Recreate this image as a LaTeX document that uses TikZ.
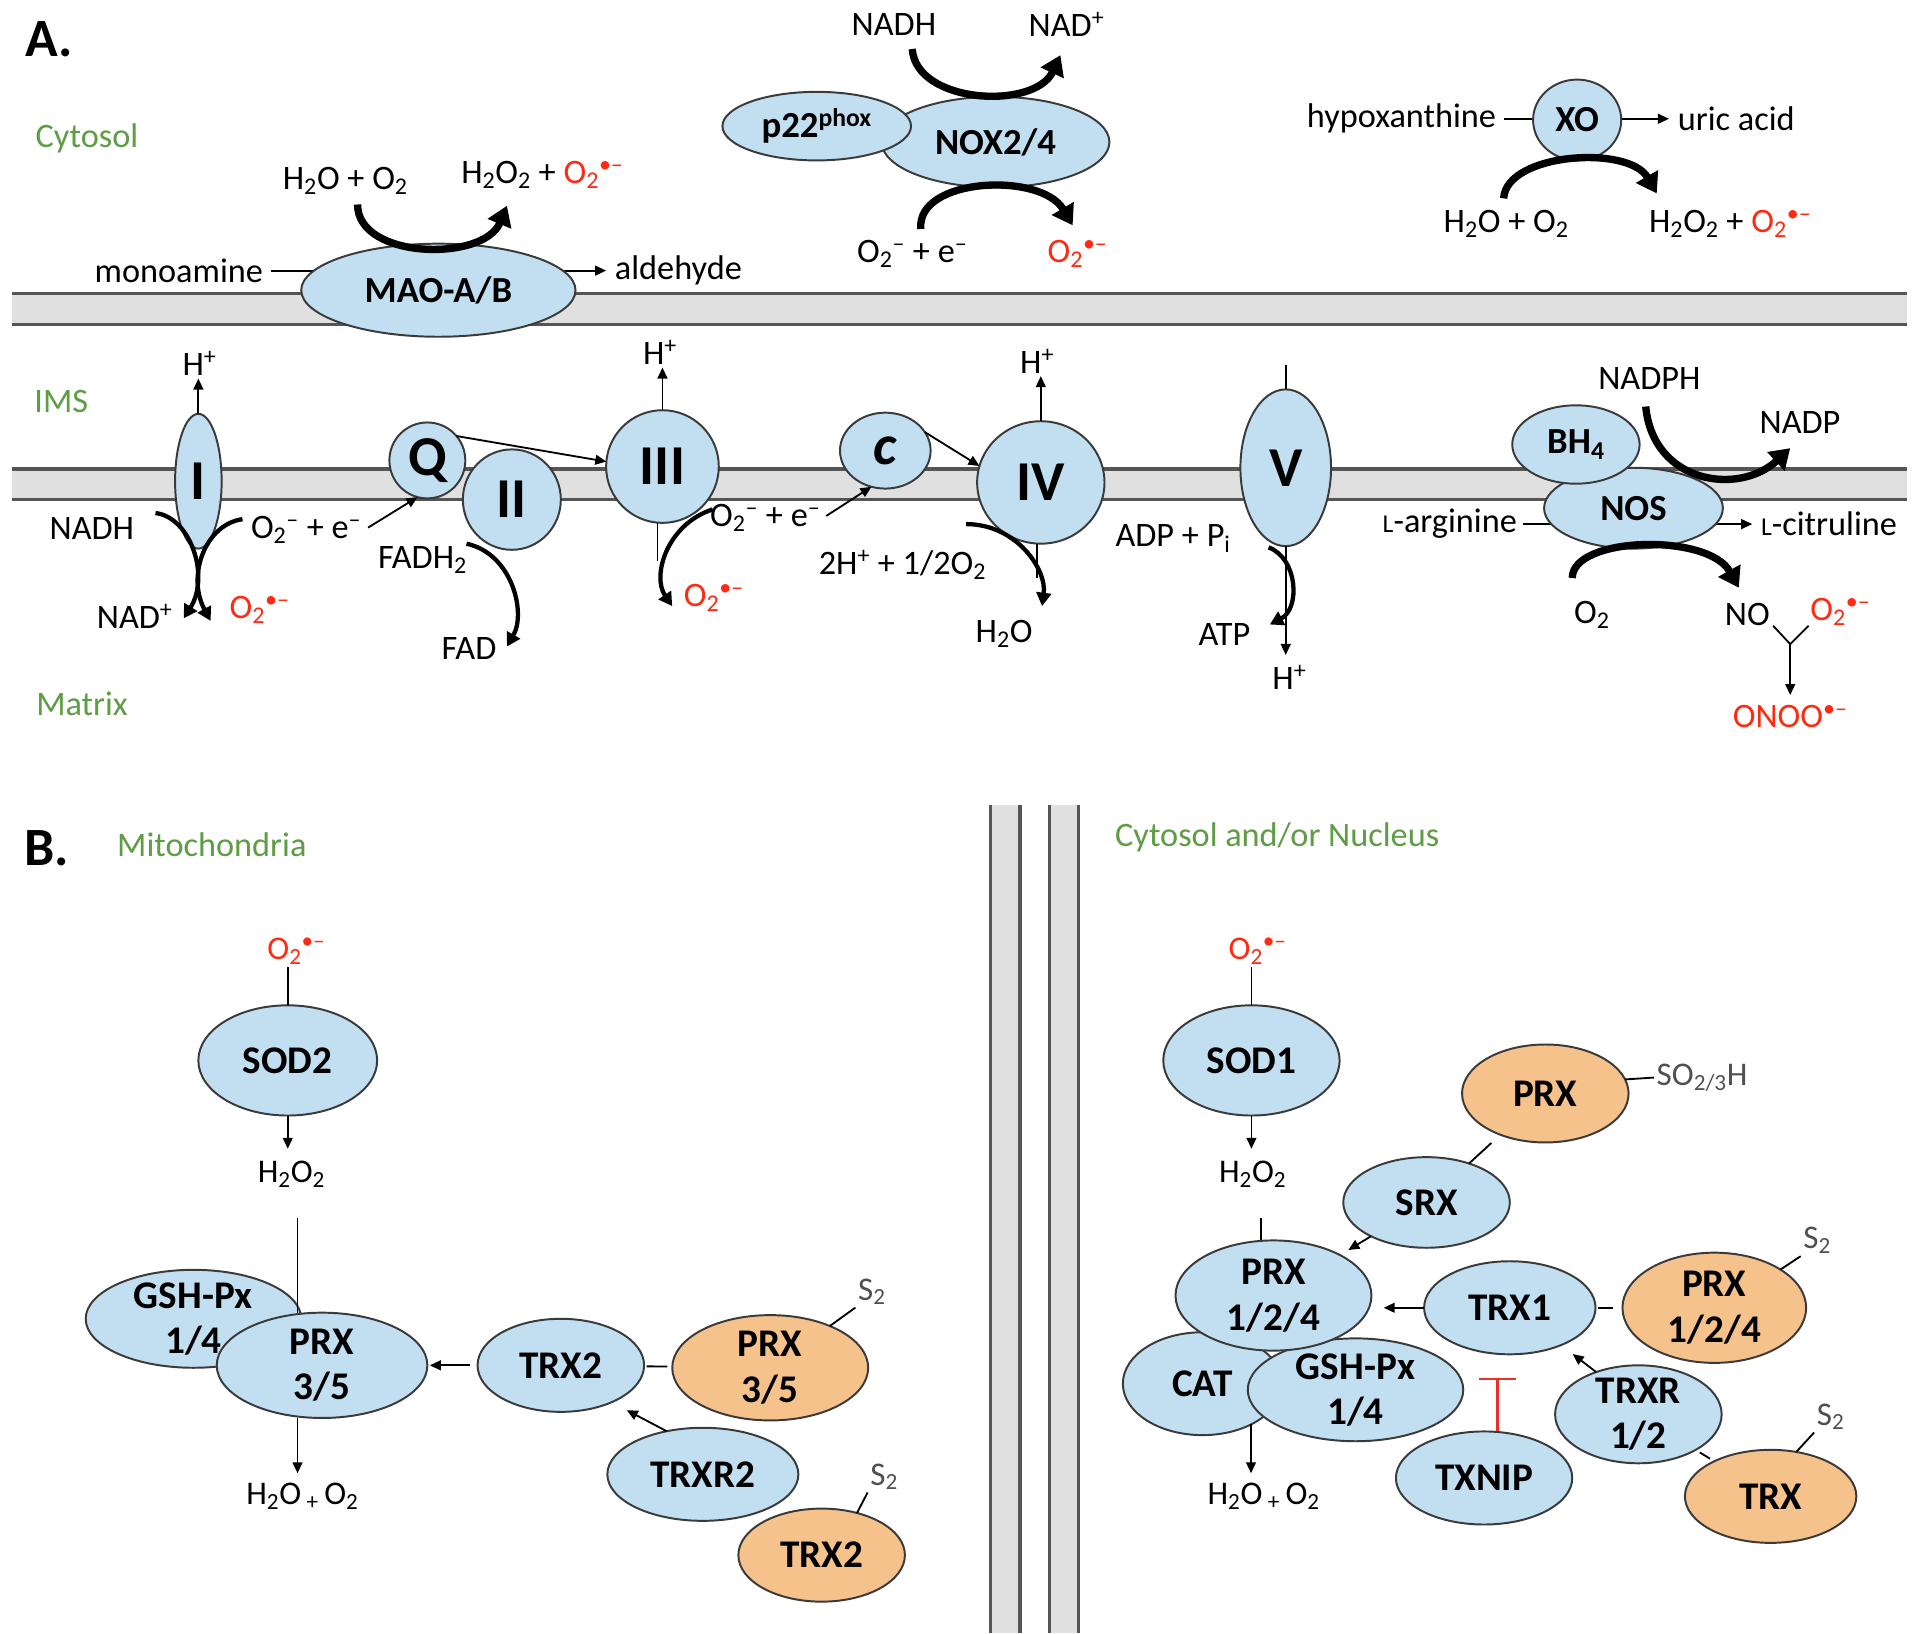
\documentclass[tikz,border=0pt]{standalone}
\usepackage{fontspec}
\setmainfont{Carlito}
\usetikzlibrary{shapes.geometric,arrows.meta}
\pgfdeclarelayer{back}
\pgfdeclarelayer{bg}
\pgfsetlayers{back,bg,main}
\definecolor{pblue}{HTML}{C2DEF1}
\definecolor{porange}{HTML}{F6C28C}
\definecolor{edge}{HTML}{3A3A3A}
\definecolor{mem}{HTML}{E0E0E0}
\definecolor{memline}{HTML}{555555}
\definecolor{grn}{HTML}{5E9C45}
\definecolor{rd}{HTML}{FF2A12}
\definecolor{gry}{HTML}{505050}
\definecolor{inhred}{HTML}{E8302A}
\newcommand\fsz[1]{\fontsize{#1}{#1}\selectfont}
\newcommand\sbs[1]{\textsubscript{#1}}
\newcommand\sps[1]{\textsuperscript{#1}}
\newcommand\supox{\textsuperscript{\textbullet–}}
\begin{document}
\begin{tikzpicture}[x=1pt,y=-1pt,
 prot/.style={ellipse, draw=edge, line width=1.6pt, fill=pblue, inner sep=0pt, outer sep=0pt},
 oprot/.style={prot, fill=porange},
 ell/.style 2 args={minimum width=#1pt, minimum height=#2pt},
 pA/.style={font=\fsz{30}\bfseries, inner sep=0pt},
 pN/.style={font=\fsz{46}\bfseries, inner sep=0pt},
 pB/.style={font={\fontsize{32}{37}\selectfont\bfseries}, align=center, inner sep=0pt},
 lab/.style={font=\fsz{28}, inner sep=2pt},
 slab/.style={font=\fsz{27}, inner sep=2pt},
 glab/.style={font=\fsz{28}, text=grn, inner sep=2pt},
 rlab/.style={lab, text=rd},
 grlab/.style={slab, text=gry},
 conn/.style={line width=1.5pt, draw=black},
 tarr/.style={conn, -{Triangle[length=9pt,width=8pt]}},
 midarr/.style={line width=3.5pt, -{Triangle[length=11pt,width=12pt]}},
 bigarr/.style={line width=6pt, -{Triangle[length=16pt,width=20pt]}},
 memb/.style={draw=memline, line width=2.5pt}
]
\useasboundingbox (0,0) rectangle (1568,1334);
\begin{pgfonlayer}{back}
\fill[white] (0,0) rectangle (1568,1334);
\fill[mem] (10,240) rectangle (1557,265);
\draw[memb] (10,240) -- (1557,240) (10,265) -- (1557,265);
\fill[mem] (10,383) rectangle (1557,408);
\draw[memb] (10,383) -- (1557,383) (10,408) -- (1557,408);
\fill[mem] (809,657) rectangle (833,1334);
\fill[mem] (857,657) rectangle (881,1334);
\draw[memb] (809,657) -- (809,1334) (833,657) -- (833,1334) (857,657) -- (857,1334) (881,657) -- (881,1334);
\end{pgfonlayer}

% ---------------- Part A ----------------
\node[font=\fsz{44}\bfseries, inner sep=0pt] (labA) at (40,32) {A.};
\node[glab] (cyt) at (71,113) {Cytosol};
\node[glab] (ims) at (50,328) {IMS};
\node[glab] (mat) at (67,575) {Matrix};

% MAO
\node[prot, ell={224}{76}, label={[pA]center:MAO-A/B}] (mao) at (358,237) {};
\node[lab, anchor=east] (mono) at (217,221) {monoamine};
\node[lab, anchor=west] (ald) at (500,221) {aldehyde};
\node[lab] (maow) at (282,148) {H\sbs{2}O + O\sbs{2}};
\node[lab] (maop) at (443,143) {H\sbs{2}O\sbs{2} + \textcolor{rd}{O\sbs{2}\supox}};
\coordinate (maoA) at (292,167);
\coordinate (maoB) at (414,168);
\draw[bigarr] (maoA) .. controls (292,212) and (395,214) .. (maoB);

% NOX
\node[prot, ell={186}{74}, label={[pA]center:NOX2/4}] (nox) at (813,116) {};
\node[prot, ell={154}{56}, label={[pA]center:p22\sps{phox}}] (p22) at (667,103) {};
\node[lab] (noxn) at (730,20) {NADH};
\node[lab] (noxp) at (871,20) {NAD\sps{+}};
\node[lab] (noxe) at (745,207) {O\sbs{2}\sps{–} + e\sps{–}};
\node[rlab] (noxo) at (880,207) {O\sbs{2}\supox};
\coordinate (noxA) at (745,40);
\coordinate (noxB) at (866,45);
\draw[bigarr] (noxA) .. controls (748,85) and (845,90) .. (noxB);
\coordinate (noxC) at (752,187);
\coordinate (noxD) at (876,184);
\draw[bigarr] (noxC) .. controls (748,145) and (850,140) .. (noxD);

% XO
\node[prot, ell={72}{66}, label={[pA]center:XO}] (xo) at (1288,98) {};
\node[lab, anchor=east] (hypo) at (1224,97) {hypoxanthine};
\node[lab, anchor=west] (uric) at (1368,97) {uric acid};
\node[lab] (xow) at (1230,183) {H\sbs{2}O + O\sbs{2}};
\node[lab] (xop) at (1413,183) {H\sbs{2}O\sbs{2} + \textcolor{rd}{O\sbs{2}\supox}};
\coordinate (xoA) at (1228,162);
\coordinate (xoB) at (1353,158);
\draw[bigarr] (xoA) .. controls (1230,125) and (1330,118) .. (xoB);

% Complex I
\node[prot, ell={38}{110}, label={[pN]center:I}] (cI) at (162,393) {};
\node[lab] (hI) at (163,297) {H\sps{+}};
\node[lab] (nadhI) at (75,432) {NADH};
\node[lab] (nadI) at (110,503) {NAD\sps{+}};
\node[lab] (eI) at (250,433) {O\sbs{2}\sps{–} + e\sps{–}};
\node[rlab] (oI) at (212,498) {O\sbs{2}\supox};
\draw[tarr] (cI.north) -- (cI.north |- hI.south);
\coordinate (cIa) at (127,419);
\coordinate (cIb) at (150,505);
\coordinate (cIc) at (198,424);
\coordinate (cId) at (172,507);
\draw[midarr] (cIa) .. controls (155,422) and (172,470) .. (cIb);
\draw[midarr] (cIc) .. controls (168,428) and (152,470) .. (cId);

% Q and II
\node[prot, ell={62}{62}, label={[pN]center:Q}] (Q) at (349,376) {};
\node[prot, ell={80}{82}, label={[pN]center:II}] (cII) at (418,408) {};
\node[lab] (fadh) at (345,457) {FADH\sbs{2}};
\node[lab] (fad) at (383,530) {FAD};
\draw[tarr, shorten <=4pt] (eI.east) -- (Q.255);
\coordinate (fA) at (381,444);
\coordinate (fB) at (414,528);
\draw[midarr] (fA) .. controls (418,452) and (430,500) .. (fB);

% III
\node[prot, ell={92}{92}, label={[pN]center:III}] (cIII) at (541,381) {};
\node[lab] (hIII) at (539,288) {H\sps{+}};
\node[lab] (eIII) at (625,423) {O\sbs{2}\sps{–} + e\sps{–}};
\node[rlab] (oIII) at (583,488) {O\sbs{2}\supox};
\draw[tarr] (Q.40) -- (cIII.175);
\draw[tarr] (cIII.north) -- (cIII.north |- hIII.south);
\coordinate (IIId) at (537,458);
\draw[conn] (IIId |- cIII.south) -- (IIId);
\coordinate (IIIa) at (582,416);
\coordinate (IIIb) at (549,495);
\draw[midarr] (IIIa) .. controls (545,428) and (532,470) .. (IIIb);

% c
\node[prot, ell={74}{62}, label={[pN]center:\itshape c}] (cc) at (723,368) {};
\draw[tarr, shorten <=3pt] (eIII.east) -- (cc.249);

% IV
\node[prot, ell={104}{100}, label={[pN]center:IV}] (cIV) at (850,394) {};
\node[lab] (hIV) at (847,295) {H\sps{+}};
\node[lab] (oxIV) at (737,461) {2H\sps{+} + 1/2O\sbs{2}};
\node[lab] (wIV) at (820,518) {H\sbs{2}O};
\draw[tarr] (cc.25) -- (cIV.165);
\draw[tarr] (cIV.north) -- (cIV.north |- hIV.south);
\coordinate (IVd) at (847,472);
\draw[conn] (IVd |- cIV.south) -- (IVd);
\coordinate (IVa) at (789,428);
\coordinate (IVb) at (851,495);
\draw[midarr] (IVa) .. controls (830,428) and (855,465) .. (IVb);

% V
\node[prot, ell={74}{128}, label={[pN]center:V}] (cV) at (1050,382) {};
\node[lab] (hV) at (1053,553) {H\sps{+}};
\node[lab] (adp) at (958,440) {ADP + P\sbs{i}};
\node[lab] (atp) at (1000,518) {ATP};
\coordinate (Vt) at (1050,298);
\draw[conn] (Vt) -- (cV.north);
\draw[tarr, shorten >=6pt] (cV.south) -- (cV.south |- hV.north);
\coordinate (Va) at (1036,447);
\coordinate (Vb) at (1037,510);
\draw[midarr] (Va) .. controls (1060,456) and (1062,497) .. (Vb);

% NOS
\node[prot, ell={146}{66}, label={[pA]center:NOS}] (nos) at (1334,415) {};
\node[prot, ell={104}{64}, label={[pA]center:BH\sbs{4}}] (bh4) at (1287,363) {};
\node[lab, anchor=east] (larg) at (1241,428) {{\fsz{21}L}-arginine};
\node[lab, anchor=west] (lcit) at (1436,428) {{\fsz{21}L}-citruline};
\node[lab] (nadph) at (1347,309) {NADPH};
\node[lab] (nadp) at (1470,345) {NADP};
\node[lab] (o2n) at (1300,502) {O\sbs{2}};
\node[lab] (non) at (1427,502) {NO};
\node[rlab] (oxn) at (1503,500) {O\sbs{2}\supox};
\node[rlab] (onoo) at (1462,585) {ONOO\supox};
\coordinate (nA) at (1344,332);
\coordinate (nB) at (1462,366);
\draw[bigarr] (nA) .. controls (1350,395) and (1420,405) .. (nB);
\coordinate (nC) at (1284,472);
\coordinate (nD) at (1420,480);
\draw[bigarr] (nC) .. controls (1284,438) and (1395,435) .. (nD);
\coordinate (yl) at (1448,511);
\coordinate (yr) at (1477,511);
\coordinate (yj) at (1462,526);
\draw[conn] (yl) -- (yj) -- (yr);
\draw[tarr, shorten >=6pt] (yj) -- (onoo.north);

\begin{pgfonlayer}{bg}
\draw[conn, shorten <=4pt] (mono.east) -- (mono.east -| mao.center);
\draw[tarr, shorten >=5pt] (ald.west -| mao.center) -- (ald.west);
\draw[conn, shorten <=4pt] (hypo.east) -- (hypo.east -| xo.center);
\draw[tarr, shorten >=5pt] (uric.west -| xo.center) -- (uric.west);
\draw[conn, shorten <=3pt] (larg.east) -- (larg.east -| nos.center);
\draw[tarr, shorten >=5pt] (lcit.west -| nos.center) -- (lcit.west);
\end{pgfonlayer}

% ---------------- Part B ----------------
\node[font=\fsz{44}\bfseries, inner sep=0pt] (labB) at (38,693) {B.};
\node[glab] (mito) at (173,690) {Mitochondria};
\node[glab] (cyn) at (1043,684) {Cytosol and/or Nucleus};

% left
\node[rlab, font=\fsz{27}] (ob2) at (242,777) {O\sbs{2}\supox};
\node[prot, ell={146}{90}, label={[pB]center:SOD2}] (sod2) at (235,866) {};
\node[slab] (h2o2L) at (238,959) {H\sbs{2}O\sbs{2}};
\node[prot, ell={176}{80}, label={[pB]center:{GSH-Px\\1/4}}] (gshL) at (158,1077) {};
\node[prot, ell={172}{86}, label={[pB]center:{PRX\\3/5}}] (prx35) at (263,1115) {};
\node[slab] (h2oo2L) at (247,1222) {H\sbs{2}O\,\sbs{+}\,O\sbs{2}};
\node[prot, ell={136}{76}, label={[pB]center:TRX2}] (trx2b) at (458,1115) {};
\node[oprot, ell={160}{86}, label={[pB]center:{PRX\\3/5}}] (prx35o) at (629,1117) {};
\node[prot, ell={156}{76}, label={[pB]center:TRXR2}] (trxr2) at (574,1204) {};
\node[oprot, ell={136}{76}, label={[pB]center:TRX2}] (trx2o) at (671,1270) {};
\node[grlab] (s2a) at (712,1055) {S\sbs{2}};
\node[grlab] (s2b) at (722,1206) {S\sbs{2}};
\draw[conn] (sod2.north) -- (sod2.north |- ob2.south);
\draw[tarr, shorten >=8pt] (sod2.south) -- (sod2.south |- h2o2L.north);
\coordinate (hl1) at (243,995);
\draw[conn] (hl1) -- (hl1 |- prx35.north);
\draw[tarr, shorten >=6pt] (hl1 |- prx35.south) -- (hl1 |- h2oo2L.north);
\draw[tarr, shorten <=6pt, shorten >=2pt] (trx2b) -- (prx35);
\draw[conn, shorten <=2pt, shorten >=4pt] (trx2b) -- (prx35o);
\draw[tarr, shorten >=14pt] (trxr2.130) -- (trx2b.-36);
\draw[conn] (prx35o.35) -- (s2a.south west);
\draw[conn] (trx2o.50) -- (s2b.south west);

% right
\node[rlab, font=\fsz{27}] (ob1) at (1027,777) {O\sbs{2}\supox};
\node[prot, ell={144}{90}, label={[pB]center:SOD1}] (sod1) at (1022,866) {};
\node[slab] (h2o2R) at (1023,959) {H\sbs{2}O\sbs{2}};
\node[oprot, ell={136}{80}, label={[pB]center:PRX}] (prxo) at (1262,893) {};
\node[grlab] (so) at (1390,880) {SO\sbs{2/3}H};
\node[prot, ell={136}{74}, label={[pB]center:SRX}] (srx) at (1165,982) {};
\node[prot, ell={130}{84}, label={[pB]center:CAT}] (cat) at (982,1130) {};
\node[prot, ell={176}{84}, label={[pB]center:{GSH-Px\\1/4}}] (gshR) at (1107,1135) {};
\node[prot, ell={160}{90}, label={[pB]center:{PRX\\1/2/4}}] (prx124b) at (1040,1058) {};
\node[slab] (h2oo2R) at (1032,1222) {H\sbs{2}O\,\sbs{+}\,O\sbs{2}};
\node[prot, ell={140}{76}, label={[pB]center:TRX1}] (trx1) at (1233,1068) {};
\node[oprot, ell={150}{90}, label={[pB]center:{PRX\\1/2/4}}] (prx124o) at (1400,1068) {};
\node[prot, ell={136}{80}, label={[pB]center:{TRXR\\1/2}}] (trxr12) at (1338,1155) {};
\node[oprot, ell={140}{76}, label={[pB]center:TRX}] (trxo) at (1446,1222) {};
\node[prot, ell={144}{76}, label={[pB]center:TXNIP}] (txnip) at (1212,1207) {};
\node[grlab] (s2c) at (1484,1013) {S\sbs{2}};
\node[grlab] (s2d) at (1495,1157) {S\sbs{2}};
\draw[conn] (sod1.north) -- (sod1.north |- ob1.south);
\draw[tarr, shorten >=8pt] (sod1.south) -- (sod1.south |- h2o2R.north);
\coordinate (hr1) at (1030,995);
\draw[conn] (hr1) -- (hr1 |- prx124b.north);
\draw[tarr, shorten >=6pt] (cat.-40) -- (cat.-40 |- h2oo2R.north);
\draw[conn] (prxo.10) -- (so.west);
\draw[conn, shorten >=10pt] (srx) -- (prxo);
\draw[tarr, shorten >=8pt] (srx) -- (prx124b);
\draw[tarr, shorten >=10pt] (trx1.west) -- (trx1.west -| prx124b.east);
\draw[conn, shorten <=2pt, shorten >=8pt] (trx1.east) -- (trx1.east -| prx124o.west);
\draw[conn] (prx124o.30) -- (s2c.south west);
\draw[tarr, shorten >=12pt] (trxr12.135) -- (trx1.-36);
\draw[conn, shorten <=4pt, shorten >=4pt] (trxr12) -- (trxo);
\draw[conn] (trxo.60) -- (s2d.south west);
\coordinate (inh) at (1223,1125);
\draw[draw=inhred, line width=2pt, -{Bar[width=30pt,line width=2pt]}] (inh |- txnip.north) -- (inh);
\end{tikzpicture}
\end{document}
